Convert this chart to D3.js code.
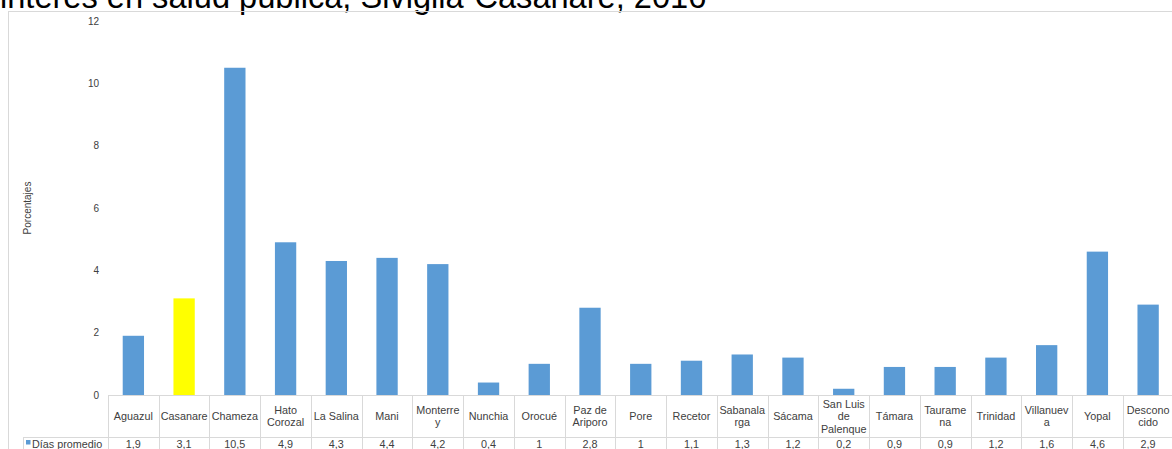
<!DOCTYPE html>
<html>
<head>
<meta charset="utf-8">
<script src="https://cdn.jsdelivr.net/npm/d3@7"></script>
<style>
  html, body { margin: 0; padding: 0; background: #fff; overflow: hidden; }
  svg { display: block; font-family: "Liberation Sans", Arial, sans-serif; }
</style>
</head>
<body>
<svg id="chart" width="1172" height="449"></svg>
<script>
const titleText = "interés en salud pública, Sivigila-Casanare, 2016";
const categories = ["Aguazul", "Casanare", "Chameza", "Hato Corozal", "La Salina", "Mani", "Monterrey", "Nunchia", "Orocué", "Paz de Ariporo", "Pore", "Recetor", "Sabanalarga", "Sácama", "San Luis de Palenque", "Támara", "Tauramena", "Trinidad", "Villanueva", "Yopal", "Desconocido"];
const categoryLines = [["Aguazul"], ["Casanare"], ["Chameza"], ["Hato", "Corozal"], ["La Salina"], ["Mani"], ["Monterre", "y"], ["Nunchia"], ["Orocué"], ["Paz de", "Ariporo"], ["Pore"], ["Recetor"], ["Sabanala", "rga"], ["Sácama"], ["San Luis", "de", "Palenque"], ["Támara"], ["Taurame", "na"], ["Trinidad"], ["Villanuev", "a"], ["Yopal"], ["Descono", "cido"]];
const values = [1.9, 3.1, 10.5, 4.9, 4.3, 4.4, 4.2, 0.4, 1, 2.8, 1, 1.1, 1.3, 1.2, 0.2, 0.9, 0.9, 1.2, 1.6, 4.6, 2.9];
const highlighted = ["Casanare"];
const seriesName = "Días promedio";
const yTicks = [0, 2, 4, 6, 8, 10, 12];
const yLabel = "Porcentajes";

const svg = d3.select("#chart");
const gridColor = "#d9d9d9";
const textColor = "#404040";

// Title (last line, partially cut at top)
svg.append("text")
  .attr("x", 0).attr("y", 8)
  .attr("font-size", 32.6)
  .attr("fill", "#000")
  .text(titleText);

// Chart frame
svg.append("rect")
  .attr("x", 8.5).attr("y", 11.5)
  .attr("width", 1180).attr("height", 460)
  .attr("fill", "none").attr("stroke", gridColor);

const y = d3.scaleLinear().domain([0, 12]).range([395, 21]);
const x = d3.scaleBand().domain(categories).range([108, 1173.5]).padding(0);

// Y axis labels
const yAxis = d3.axisLeft(y).tickValues(yTicks).tickSize(0).tickPadding(0);
const yg = svg.append("g").attr("transform", "translate(99,0)").call(yAxis);
yg.select(".domain").remove();
yg.selectAll("text").attr("font-size", 10).attr("fill", textColor)
  .attr("font-family", "Liberation Sans, Arial, sans-serif");

svg.append("text")
  .attr("transform", "translate(31,208) rotate(-90)")
  .attr("text-anchor", "middle")
  .attr("font-size", 10).attr("fill", textColor)
  .text(yLabel);

// Bars
const barW = x.bandwidth() * 0.42;
svg.append("g").selectAll("rect").data(categories).join("rect")
  .attr("x", d => x(d) + (x.bandwidth() - barW) / 2)
  .attr("y", (d, i) => y(values[i]))
  .attr("width", barW)
  .attr("height", (d, i) => y(0) - y(values[i]))
  .attr("fill", d => highlighted.includes(d) ? "#FFFF00" : "#5B9BD5");

// Data table lines
const tbl = svg.append("g").attr("stroke", gridColor).attr("shape-rendering", "crispEdges");
tbl.append("line").attr("x1", 108).attr("x2", 1180).attr("y1", 395.5).attr("y2", 395.5);
tbl.append("line").attr("x1", 23).attr("x2", 1180).attr("y1", 437.5).attr("y2", 437.5);
tbl.append("line").attr("x1", 23.5).attr("x2", 23.5).attr("y1", 437).attr("y2", 460);
tbl.selectAll("line.v").data(categories).join("line")
  .attr("class", "v")
  .attr("x1", d => Math.round(x(d)) + 0.5).attr("x2", d => Math.round(x(d)) + 0.5)
  .attr("y1", 395).attr("y2", 460);

// Category labels
const lh = 12.5;
const catG = svg.append("g").attr("font-size", 10.8).attr("fill", textColor).attr("text-anchor", "middle");
categories.forEach((c, i) => {
  const lines = categoryLines[i];
  const cx = x(c) + x.bandwidth() / 2;
  const cy = 416;
  const t = catG.append("text").attr("x", cx);
  lines.forEach((ln, j) => {
    t.append("tspan")
      .attr("x", cx)
      .attr("y", cy + (j - (lines.length - 1) / 2) * lh + 4)
      .text(ln);
  });
});

// Values row
const fmt = v => String(v).replace(".", ",");
svg.append("g").attr("font-size", 10.8).attr("fill", textColor).attr("text-anchor", "middle")
  .selectAll("text").data(categories).join("text")
  .attr("x", d => x(d) + x.bandwidth() / 2)
  .attr("y", 447.5)
  .text((d, i) => fmt(values[i]));

// Legend cell
svg.append("rect").attr("x", 26).attr("y", 440).attr("width", 4.5).attr("height", 4.5).attr("fill", "#5B9BD5");
svg.append("text").attr("x", 32).attr("y", 447.5).attr("font-size", 10.8).attr("fill", textColor).text(seriesName);
</script>
</body>
</html>
